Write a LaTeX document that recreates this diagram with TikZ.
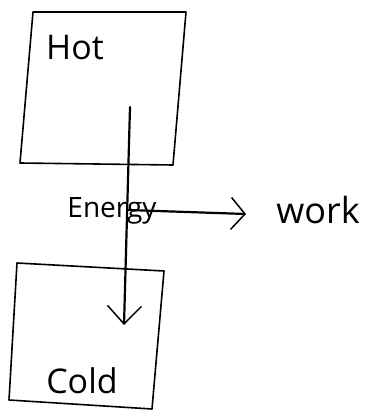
\documentclass[tikz,border=0pt]{standalone}
\usepackage{fontspec}
\setmainfont{Open Sans}
\usetikzlibrary{arrows.meta}
\begin{document}
\begin{tikzpicture}[x=1pt,y=-1pt,
  sketch/.style={line width=1.6pt,line join=round,line cap=round},
  flow/.style={line width=2.2pt,line cap=round},
  lbl/.style={inner sep=0pt,font=\fontsize{34}{36}\selectfont}]
\useasboundingbox (0,0) rectangle (379,411);
% boxes
\draw[sketch] (33,12) -- (186,12) -- (173,165) -- (20,163) -- cycle;
\draw[sketch] (17,263) -- (164,271) -- (152,409) -- (9,400) -- cycle;
% labels
\node[lbl] (hot) at (75,48) {Hot};
\node[lbl] (cold) at (82,381) {Cold};
\node[lbl,font=\fontsize{36}{38}\selectfont] (work) at (318,210) {work};
\node[lbl,font=\fontsize{28}{30}\selectfont] (energy) at (112,211) {Energy};
% connectors
\coordinate (src) at (130,107);
\coordinate (sink) at (124,325);
\coordinate (split) at (128,210);
\coordinate (out) at (246,214);
\draw[flow,-{Straight Barb[length=18pt,width=34pt,line width=1.5pt]}] (src) -- (sink);
\draw[flow,-{Straight Barb[length=14pt,width=32pt,line width=1.5pt]}] (split) -- (out);
\end{tikzpicture}
\end{document}
